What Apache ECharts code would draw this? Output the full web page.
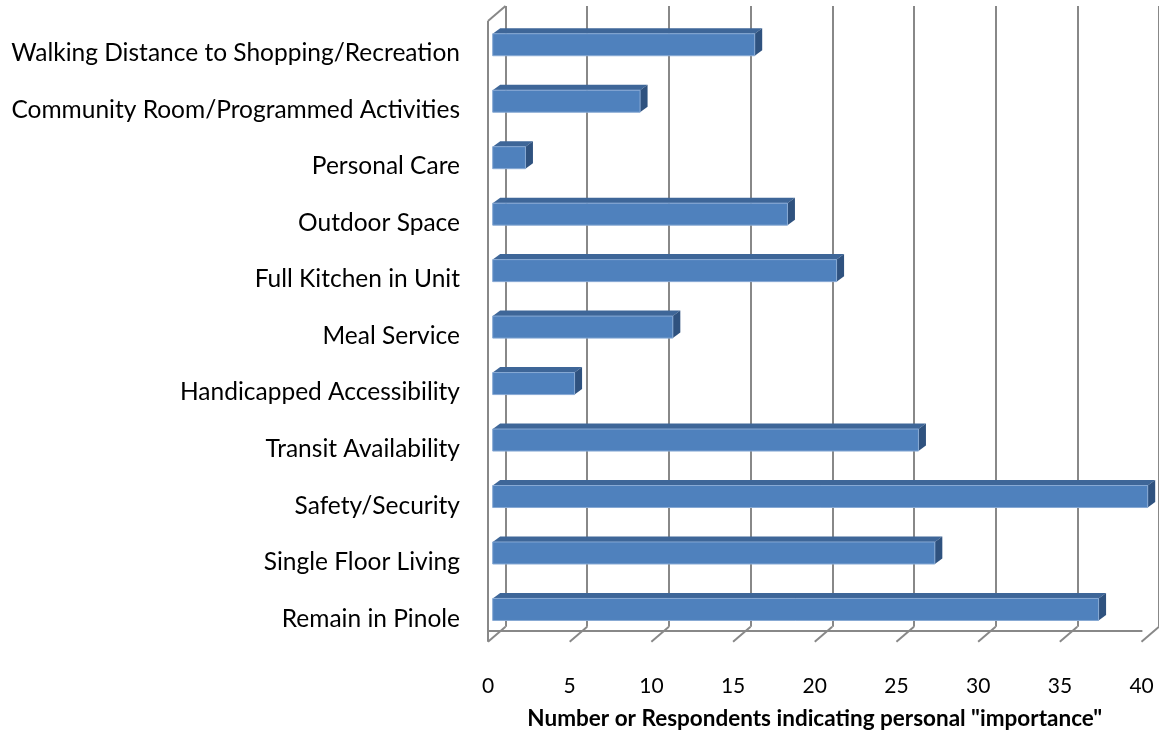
<!DOCTYPE html>
<html>
<head>
<meta charset="utf-8">
<script src="https://cdn.jsdelivr.net/npm/echarts@6/dist/echarts.min.js"></script>
<style>
html,body{margin:0;padding:0;background:#fff;}
#c{width:1159px;height:735px;}
</style>
</head>
<body>
<div id="c"></div>
<script>
const categories = [
  'Walking Distance to Shopping/Recreation',
  'Community Room/Programmed Activities',
  'Personal Care',
  'Outdoor Space',
  'Full Kitchen in Unit',
  'Meal Service',
  'Handicapped Accessibility',
  'Transit Availability',
  'Safety/Security',
  'Single Floor Living',
  'Remain in Pinole'
];
const values = [16, 9, 2, 18, 21, 11, 5, 26, 40, 27, 37];
const ticks = [0, 5, 10, 15, 20, 25, 30, 35, 40];
const xAxisTitle = 'Number or Respondents indicating personal "importance"';

const GRAY = '#888888';
const FONT = 'Lato';
const DEPTH_X = 17.5, DEPTH_Y = 15;

const chart = echarts.init(document.getElementById('c'), null, {renderer: 'canvas'});

chart.setOption({
  backgroundColor: '#ffffff',
  animation: false,
  grid: [
    {left: 505.5, right: -4, top: 6, bottom: 108.3},    // back wall
    {left: 488, right: 17.4, top: 21, bottom: 93.3},    // front plane
    {left: 492.7, right: 11.3, top: 16.5, bottom: 97.3}, // bars
    {left: 488, right: 17.4, top: 25, bottom: 88}       // category labels
  ],
  xAxis: [
    {gridIndex: 0, type: 'value', min: 0, max: 40, interval: 5,
     axisLine: {show: false}, axisTick: {show: false}, axisLabel: {show: false},
     splitLine: {show: true, lineStyle: {color: GRAY, width: 2}}},
    {gridIndex: 1, type: 'value', min: 0, max: 40, interval: 5,
     axisLine: {show: true, lineStyle: {color: GRAY, width: 2}},
     axisTick: {show: false}, splitLine: {show: false},
     axisLabel: {fontFamily: FONT, fontSize: 21, color: '#000', margin: 45},
     name: xAxisTitle, nameLocation: 'middle', nameGap: 76,
     nameTextStyle: {fontFamily: FONT, fontWeight: 'bold', fontSize: 22.5, color: '#000'}},
    {gridIndex: 2, type: 'value', min: 0, max: 40, interval: 5, show: false},
    {gridIndex: 3, type: 'value', min: 0, max: 40, show: false}
  ],
  yAxis: [
    {gridIndex: 0, type: 'value', min: 0, max: 1, show: false},
    {gridIndex: 1, type: 'category', data: categories, inverse: true, show: false},
    {gridIndex: 2, type: 'category', data: categories, inverse: true, show: false},
    {gridIndex: 3, type: 'category', data: categories, inverse: true,
     axisLine: {show: false}, axisTick: {show: false}, splitLine: {show: false},
     axisLabel: {fontFamily: FONT, fontSize: 24.5, color: '#000', margin: 28}}
  ],
  series: [
    {
      type: 'custom', xAxisIndex: 0, yAxisIndex: 0, silent: true, z: 1,
      data: ticks.map(t => [t, 0]),
      renderItem: function (params, api) {
        const cs = params.coordSys;
        const p = api.coord([api.value(0), 0]);
        const by = cs.y + cs.height;
        const ls = {stroke: GRAY, lineWidth: 2, fill: null};
        const children = [
          {type: 'line', shape: {x1: p[0], y1: by, x2: p[0] - DEPTH_X, y2: by + DEPTH_Y}, style: ls}
        ];
        if (api.value(0) === 0) {
          children.push({type: 'line', shape: {x1: p[0], y1: cs.y, x2: p[0] - DEPTH_X, y2: cs.y + DEPTH_Y}, style: ls});
          children.push({type: 'line', shape: {x1: p[0] - DEPTH_X, y1: cs.y + DEPTH_Y, x2: p[0] - DEPTH_X, y2: by + DEPTH_Y}, style: ls});
        }
        return {type: 'group', children: children};
      }
    },
    {
      type: 'custom', xAxisIndex: 2, yAxisIndex: 2, silent: true, z: 3,
      data: values.map((v, i) => [v, i]),
      renderItem: function (params, api) {
        const v = api.value(0), cat = api.value(1);
        const s = api.coord([0, cat]);
        const e = api.coord([v, cat]);
        const band = api.size([0, 1])[1];
        const h = band * 0.39;
        const x = s[0], y = s[1] - h / 2, w = e[0] - s[0];
        const dx = 7.5, dy = 5.5;
        return {
          type: 'group',
          children: [
            {type: 'polygon', shape: {points: [[x, y], [x + dx, y - dy], [x + w + dx, y - dy], [x + w, y]]},
             style: {fill: '#3E6698'}},
            {type: 'polygon', shape: {points: [[x + w, y], [x + w + dx, y - dy], [x + w + dx, y + h - dy], [x + w, y + h]]},
             style: {fill: '#2F527F'}},
            {type: 'rect', shape: {x: x, y: y, width: w, height: h},
             style: {fill: '#4F81BD', stroke: '#87A9D4', lineWidth: 1}}
          ]
        };
      }
    }
  ]
});
</script>
</body>
</html>
